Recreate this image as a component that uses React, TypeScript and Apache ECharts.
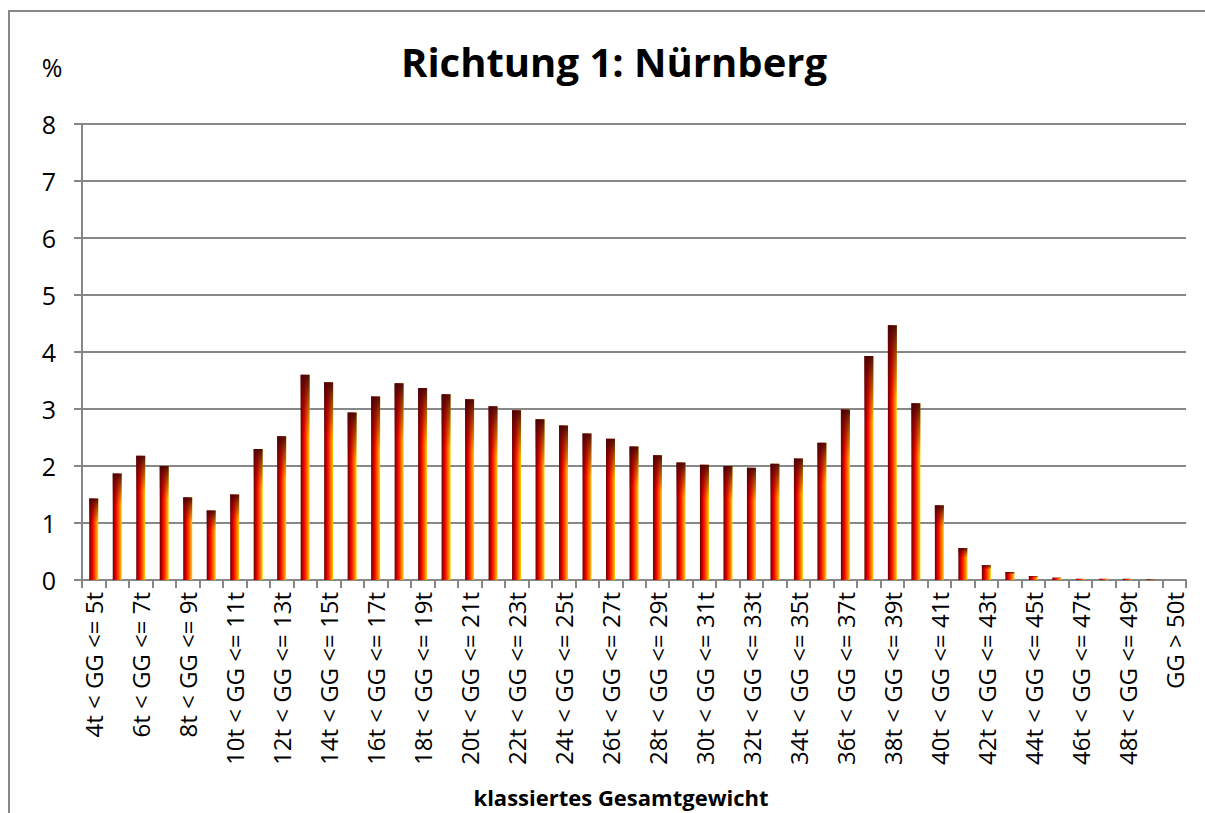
import React, { useEffect, useRef } from "react";
import * as echarts from "echarts";

const categories: string[] = [
  "4t < GG <= 5t", "5t < GG <= 6t", "6t < GG <= 7t", "7t < GG <= 8t", "8t < GG <= 9t",
  "9t < GG <= 10t", "10t < GG <= 11t", "11t < GG <= 12t", "12t < GG <= 13t", "13t < GG <= 14t",
  "14t < GG <= 15t", "15t < GG <= 16t", "16t < GG <= 17t", "17t < GG <= 18t", "18t < GG <= 19t",
  "19t < GG <= 20t", "20t < GG <= 21t", "21t < GG <= 22t", "22t < GG <= 23t", "23t < GG <= 24t",
  "24t < GG <= 25t", "25t < GG <= 26t", "26t < GG <= 27t", "27t < GG <= 28t", "28t < GG <= 29t",
  "29t < GG <= 30t", "30t < GG <= 31t", "31t < GG <= 32t", "32t < GG <= 33t", "33t < GG <= 34t",
  "34t < GG <= 35t", "35t < GG <= 36t", "36t < GG <= 37t", "37t < GG <= 38t", "38t < GG <= 39t",
  "39t < GG <= 40t", "40t < GG <= 41t", "41t < GG <= 42t", "42t < GG <= 43t", "43t < GG <= 44t",
  "44t < GG <= 45t", "45t < GG <= 46t", "46t < GG <= 47t", "47t < GG <= 48t", "48t < GG <= 49t",
  "49t < GG <= 50t", "GG > 50t",
];

const values: number[] = [
  1.43, 1.87, 2.18, 2.0, 1.45, 1.22, 1.5, 2.3, 2.52, 3.6,
  3.47, 2.94, 3.22, 3.45, 3.37, 3.26, 3.17, 3.05, 2.98, 2.82,
  2.71, 2.57, 2.48, 2.34, 2.19, 2.06, 2.02, 2.0, 1.97, 2.04,
  2.13, 2.41, 2.99, 3.93, 4.47, 3.1, 1.31, 0.56, 0.26, 0.14,
  0.07, 0.04, 0.02, 0.02, 0.02, 0.01, 0,
];

const title = "Richtung 1: Nürnberg";
const xAxisTitle = "klassiertes Gesamtgewicht";
const yUnit = "%";

const FONT = "Open Sans";
const GRAY = "#878787";

export default function App() {
  const ref = useRef<HTMLDivElement>(null);
  useEffect(() => {
    if (!ref.current) return;
    const chart = echarts.init(ref.current, undefined, { renderer: "svg" });
    const hGrad = new echarts.graphic.LinearGradient(0, 0, 1, 0, [
      { offset: 0, color: "#6a0000" },
      { offset: 0.25, color: "#c80000" },
      { offset: 0.45, color: "#ff1000" },
      { offset: 0.75, color: "#ff7a00" },
      { offset: 1, color: "#ffd400" },
    ]);
    const vGrad = new echarts.graphic.LinearGradient(0, 0, 0, 1, [
      { offset: 0, color: "rgba(70,5,5,0.95)" },
      { offset: 0.1, color: "rgba(90,5,5,0.6)" },
      { offset: 0.3, color: "rgba(120,0,0,0)" },
      { offset: 1, color: "rgba(120,0,0,0)" },
    ]);
    chart.setOption({
      animation: false,
      backgroundColor: "#ffffff",
      textStyle: { fontFamily: FONT },
      title: {
        text: title,
        left: 609,
        textAlign: "center",
        top: 36,
        textStyle: { fontFamily: FONT, fontSize: 40, fontWeight: "bold", color: "#000" },
      },
      graphic: [
        {
          type: "rect",
          shape: { x: 9, y: 11, width: 1300, height: 900 },
          style: { fill: "none", stroke: GRAY, lineWidth: 2 },
          silent: true,
        },
        {
          type: "text",
          x: 52,
          y: 67,
          style: { text: yUnit, font: `25px ${FONT}`, fill: "#000", textAlign: "center", textVerticalAlign: "middle" },
        },
        {
          type: "text",
          x: 621,
          y: 797,
          style: { text: xAxisTitle, font: `bold 22px ${FONT}`, fill: "#000", textAlign: "center", textVerticalAlign: "middle" },
        },
      ],
      grid: { left: 82, right: 19, top: 124, bottom: 233, containLabel: false },
      xAxis: {
        type: "category",
        data: categories,
        boundaryGap: true,
        axisLine: { lineStyle: { color: GRAY, width: 2 } },
        axisTick: { show: true, interval: 0, length: 8, lineStyle: { color: GRAY, width: 2 } },
        axisLabel: { interval: 1, rotate: 90, margin: 12, fontSize: 24, color: "#000", fontFamily: FONT },
      },
      yAxis: {
        type: "value",
        min: 0,
        max: 8,
        interval: 1,
        axisLine: { show: true, lineStyle: { color: GRAY, width: 2 } },
        axisTick: { show: true, length: 8, lineStyle: { color: GRAY, width: 2 } },
        axisLabel: { margin: 26, fontSize: 25, color: "#000", fontFamily: FONT },
        splitLine: { show: true, lineStyle: { color: GRAY, width: 2 } },
      },
      series: [
        {
          type: "bar",
          data: values,
          barWidth: 9,
          barGap: "-100%",
          itemStyle: { color: hGrad },
          silent: true,
        },
        {
          type: "bar",
          data: values,
          barWidth: 9,
          barGap: "-100%",
          itemStyle: { color: vGrad },
          silent: true,
        },
      ],
    });
    return () => chart.dispose();
  }, []);
  return (
    <div
      ref={ref}
      style={{ position: "fixed", left: 0, top: 0, width: 1205, height: 813, background: "#fff" }}
    />
  );
}
